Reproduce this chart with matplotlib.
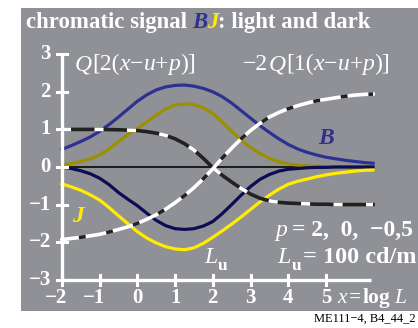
import matplotlib
matplotlib.use("Agg")
import matplotlib.pyplot as plt
from matplotlib.transforms import IdentityTransform

# values (x = log L), step 0.25
xs = [-2.0, -1.75, -1.5, -1.25, -1.0, -0.75, -0.5, -0.25, 0.0, 0.25, 0.5, 0.75,
      1.0, 1.25, 1.5, 1.75, 2.0, 2.25, 2.5, 2.75, 3.0, 3.25, 3.5, 3.75,
      4.0, 4.25, 4.5, 4.75, 5.0, 5.25, 5.5, 5.75, 6.0, 6.25]
blue = [0.47, 0.57, 0.68, 0.80, 0.95, 1.13, 1.33, 1.54, 1.75, 1.92, 2.05, 2.13,
        2.17, 2.18, 2.15, 2.09, 2.00, 1.87, 1.70, 1.50, 1.30, 1.10, 0.92, 0.75,
        0.60, 0.48, 0.39, 0.32, 0.26, 0.22, 0.18, 0.15, 0.12, 0.10]
olive = [0.05, 0.09, 0.15, 0.22, 0.32, 0.48, 0.68, 0.86, 1.03, 1.20, 1.38, 1.54,
         1.65, 1.68, 1.66, 1.57, 1.42, 1.20, 0.95, 0.72, 0.52, 0.36, 0.23, 0.14,
         0.08, 0.05, 0.03, 0.02, 0.01, 0.0, 0.0, 0.0, 0.0, 0.0]
navy = [0.0, -0.04, -0.10, -0.18, -0.30, -0.47, -0.68, -0.86, -1.03, -1.23, -1.42, -1.56,
        -1.64, -1.66, -1.64, -1.57, -1.45, -1.24, -1.00, -0.75, -0.52, -0.33, -0.20, -0.11,
        -0.06, -0.04, -0.02, -0.01, -0.01, 0.0, 0.0, 0.0, 0.0, 0.0]
yellow = [-0.45, -0.53, -0.62, -0.74, -0.88, -1.08, -1.30, -1.51, -1.72, -1.89, -2.02, -2.12,
          -2.18, -2.20, -2.15, -2.03, -1.87, -1.70, -1.52, -1.33, -1.13, -0.93, -0.75, -0.59,
          -0.46, -0.38, -0.32, -0.26, -0.21, -0.17, -0.14, -0.11, -0.09, -0.08]
dash_fall = [1.0, 1.0, 1.0, 1.0, 1.0, 0.995, 0.99, 0.98, 0.97, 0.94, 0.90, 0.84,
             0.75, 0.62, 0.45, 0.23, -0.02, -0.22, -0.40, -0.57, -0.72, -0.83, -0.90, -0.94,
             -0.96, -0.97, -0.98, -0.99, -0.99, -1.0, -1.0, -1.0, -1.0, -1.0]
dash_rise = [-1.93, -1.90, -1.87, -1.83, -1.79, -1.73, -1.66, -1.59, -1.50, -1.39, -1.27, -1.12,
             -0.95, -0.76, -0.55, -0.31, -0.05, 0.24, 0.50, 0.75, 0.97, 1.16, 1.33, 1.45,
             1.55, 1.63, 1.70, 1.76, 1.80, 1.84, 1.88, 1.91, 1.93, 1.94]

xticks = [-2, -1, 0, 1, 2, 3, 4, 5]
yticks = [-3, -2, -1, 0, 1, 2, 3]

W, H = 418, 328
GRAY = "#909196"
BLUE = "#2e3192"
OLIVE = "#9a9000"
NAVY = "#0c0c55"
YELLOW = "#ffec00"
SERIF = "Liberation Serif"

# pixel layout of the gray panel and the data scale
left, top, bottom = 21, 8, 311
x0_px, y0_px, kx, ky = 62, 167, 37.7, 37.6

fig = plt.figure(figsize=(W / 100, H / 100), dpi=100)
ax = fig.add_axes([left / W, (H - bottom) / H, (W - left) / W, (bottom - top) / H])
ax.set_xlim((left - x0_px) / kx - 2, (W - x0_px) / kx - 2)
ax.set_ylim((y0_px - bottom) / ky, (y0_px - top) / ky)
ax.axis("off")
ax.add_patch(plt.Rectangle((0, 0), 1, 1, transform=ax.transAxes, color=GRAY, zorder=0))

# axes drawn by hand, white
ax.plot([-2, 6.2], [-3, -3], color="white", lw=2.4, solid_capstyle="butt", zorder=5)
ax.plot([-2, -2], [-3, 3], color="white", lw=2.4, solid_capstyle="butt", zorder=5)
for t in xticks:
    ax.plot([t, t], [-3.13, -2.87], color="white", lw=2.2, zorder=5)
for t in yticks:
    ax.plot([-2.14, -1.86], [t, t], color="white", lw=2.2, zorder=5)

ax.plot([-2, 6.25], [0, 0], color="#1a1a1a", lw=1.4, zorder=2)
ax.plot(xs, blue, color=BLUE, lw=2.3, zorder=3)
ax.plot(xs, olive, color=OLIVE, lw=2.3, zorder=3)
ax.plot(xs, navy, color=NAVY, lw=2.3, zorder=3)
ax.plot(xs, yellow, color=YELLOW, lw=2.3, zorder=3)

ax.plot(xs, dash_fall, color="#222222", lw=2.6, zorder=4)
ax.plot(xs, dash_fall, color="white", lw=2.6, ls=(0, (2.5, 6.5)), zorder=4)
ax.plot(xs, dash_rise, color="white", lw=2.6, zorder=4)
ax.plot(xs, dash_rise, color="#222222", lw=2.6, ls=(3, (1.9, 5.8)), zorder=4)

fs = 15
for t in yticks:
    lab = str(t).replace("-", "\u2212")
    ax.text((51 - x0_px) / kx - 2, t, lab, ha="right", va="center", color="white",
            fontsize=fs, fontweight="bold", family=SERIF, zorder=6)
for t in xticks:
    lab = str(t).replace("-", "\u2212")
    off = -0.16 if t < 0 else 0
    ax.text(t + off, (y0_px - 303) / ky, lab, ha="center", va="baseline", color="white",
            fontsize=fs, fontweight="bold", family=SERIF, zorder=6)

ident = IdentityTransform()
renderer = fig.canvas.get_renderer()


def row(px, py, parts, size=14, color="white"):
    # mixed-style text laid out left to right, pixel coords from top-left
    x = px
    for p in parts:
        s, style = p[0], p[1]
        opts = p[2] if len(p) > 2 else {}
        x += opts.get("gap", 0)
        t = fig.text(x, H - py + opts.get("dy", 0), s, transform=ident, ha="left", va="baseline",
                     family=SERIF, fontsize=opts.get("size", size),
                     color=opts.get("color", color),
                     fontweight="bold" if "b" in style else "normal",
                     fontstyle="italic" if "i" in style else "normal")
        x = t.get_window_extent(renderer).x1


row(26, 28, [("chromatic signal", "b"), ("B", "bi", {"gap": 5, "color": BLUE}),
             ("J", "bi", {"color": YELLOW}), (": light and dark", "b")], size=16.4)

q_parts = [("Q", "i"), ("[2(", ""), ("x", "i"), ("\u2212", ""), ("u", "i"), ("+", ""),
           ("p", "i"), (")]", "")]
row(75, 70, q_parts, size=17)
row(243, 70, [("\u22122", "")] + [("Q", "i", {"gap": 1})] +
    [("[1(", "")] + q_parts[2:], size=17)

row(318, 144, [("B", "bi", {"color": BLUE})], size=17)
row(72, 222, [("J", "bi", {"color": YELLOW})], size=17)

row(275, 236, [("p", "i"), ("= 2,  0,  \u22120,5", "b", {"gap": 5})], size=17)
row(204, 263, [("L", "i"), ("u", "b", {"size": 12.5, "dy": -7, "gap": 1})], size=17)
row(277, 263, [("L", "i"), ("u", "b", {"size": 12.5, "dy": -7, "gap": 1}),
               ("= 100 cd/m", "b", {"gap": 2})], size=17.5)
row(337, 303, [("x", "i"), ("=", "b", {"gap": 2}), ("log", "b", {"gap": 2}),
               ("L", "i", {"gap": 4})], size=15.5)

fig.text(416, H - 322, "ME111\u22124, B4_44_2", transform=ident, ha="right", va="baseline",
         family=SERIF, fontsize=9, color="black")

fig.savefig("out.png", dpi=100, facecolor="white")
